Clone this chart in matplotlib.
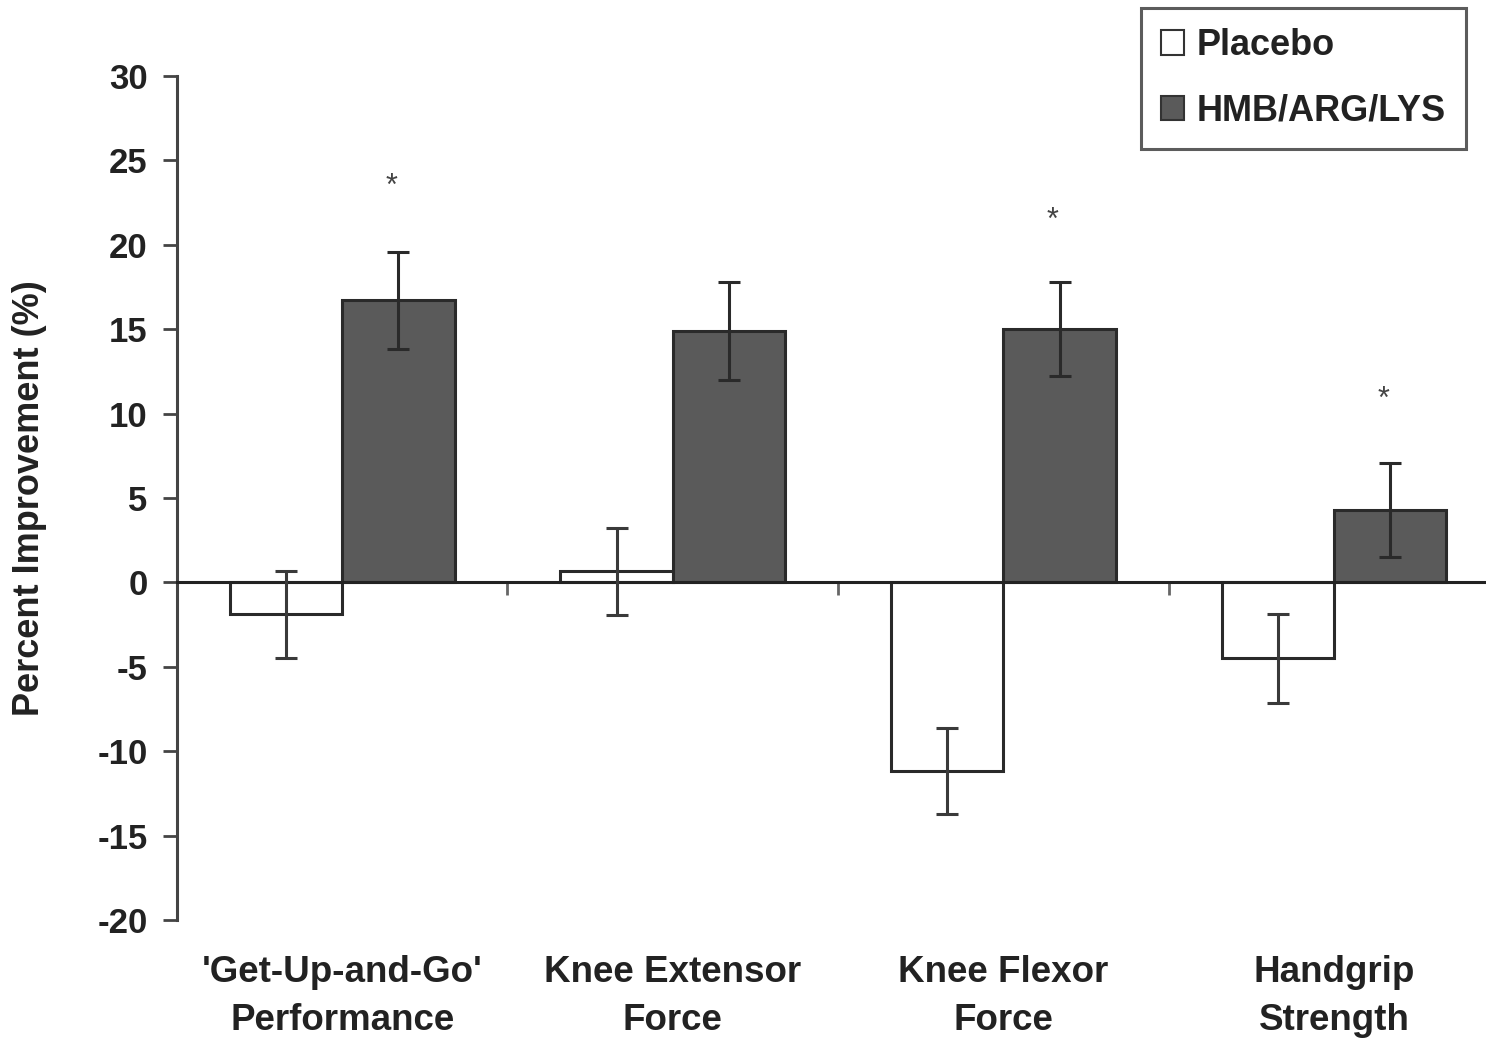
import matplotlib
matplotlib.use("Agg")
import matplotlib.pyplot as plt
import numpy as np
from matplotlib.patches import Patch
from matplotlib.transforms import blended_transform_factory

categories = ["'Get-Up-and-Go'\nPerformance", "Knee Extensor\nForce",
              "Knee Flexor\nForce", "Handgrip\nStrength"]
placebo = [-1.9, 0.65, -11.2, -4.5]
placebo_err = [2.6, 2.6, 2.55, 2.65]
hmb = [16.7, 14.9, 15.0, 4.3]
hmb_err = [2.9, 2.9, 2.8, 2.8]
significant = [True, False, True, True]
star_y = [23.4, None, 21.4, 10.8]
yticks = [30, 25, 20, 15, 10, 5, 0, -5, -10, -15, -20]

plt.rcParams['font.family'] = ['Liberation Sans', 'DejaVu Sans']
plt.rcParams['font.weight'] = 'bold'

fig = plt.figure(figsize=(14.86, 10.38), dpi=100)
ax = fig.add_axes([0.119, 0.1137, 0.881, 0.8131])

x = np.arange(len(categories))
w = 0.34
edge = '#2a2a2a'
ax.bar(x - w / 2, placebo, w, color='white', edgecolor=edge, linewidth=2.2, zorder=2)
ax.bar(x + w / 2, hmb, w, color='#5a5a5a', edgecolor=edge, linewidth=2.2, zorder=2)
ax.errorbar(x - w / 2, placebo, yerr=placebo_err, fmt='none', ecolor='#3a3a3a',
            elinewidth=2.2, capsize=8, capthick=2.2, zorder=3)
ax.errorbar(x + w / 2, hmb, yerr=hmb_err, fmt='none', ecolor='#2a2a2a',
            elinewidth=2.2, capsize=8, capthick=2.2, zorder=3)

for xi, sig, sy in zip(x, significant, star_y):
    if sig:
        ax.text(xi + w / 2 - 0.02, sy, '*', ha='center', va='center',
                fontsize=22, color='#444444', fontweight='normal')

ax.set_xlim(-0.5, 3.46)
ax.set_ylim(-20, 30)
ax.set_yticks(yticks)
ax.set_yticklabels([str(t) for t in yticks], fontsize=25, color='#222222',
                   fontweight='bold')
ax.tick_params(axis='y', direction='out', length=10, width=2, color='#444444', pad=11)

# x axis drawn at zero, with ticks marking group boundaries
ax.spines['bottom'].set_position(('data', 0))
ax.spines['top'].set_visible(False)
ax.spines['right'].set_visible(False)
ax.spines['left'].set_linewidth(2.2)
ax.spines['left'].set_color('#444444')
ax.spines['bottom'].set_linewidth(2.2)
ax.spines['bottom'].set_color('#222222')
ax.set_xticks([0.5, 1.5, 2.5])
ax.set_xticklabels([])
ax.tick_params(axis='x', direction='out', length=9, width=2, color='#666666')

trans = blended_transform_factory(ax.transData, ax.transAxes)
for xi, lab in zip(x, categories):
    ax.text(xi, -0.042, lab, transform=trans, ha='center', va='top',
            fontsize=26.5, color='#222222', fontweight='bold', linespacing=1.45)

ax.set_ylabel('Percent Improvement (%)', fontsize=26, color='#222222',
              fontweight='bold')
ax.yaxis.set_label_coords(-0.099, 0.5)

handles = [Patch(facecolor='white', edgecolor='#333333', linewidth=1.5, label='Placebo'),
           Patch(facecolor='#5a5a5a', edgecolor='#333333', linewidth=1.5, label='HMB/ARG/LYS')]
leg = fig.legend(handles=handles, loc='upper right', bbox_to_anchor=(0.9865, 0.992),
                 prop={'size': 26, 'weight': 'bold'}, frameon=True, fancybox=False,
                 edgecolor='#333333', handlelength=0.65, handleheight=0.65,
                 handletextpad=0.35, labelspacing=0.85, borderpad=0.55,
                 borderaxespad=0)
leg.get_frame().set_linewidth(2.2)
for t in leg.get_texts():
    t.set_color('#222222')

fig.savefig('out.png', dpi=100, facecolor='white')
